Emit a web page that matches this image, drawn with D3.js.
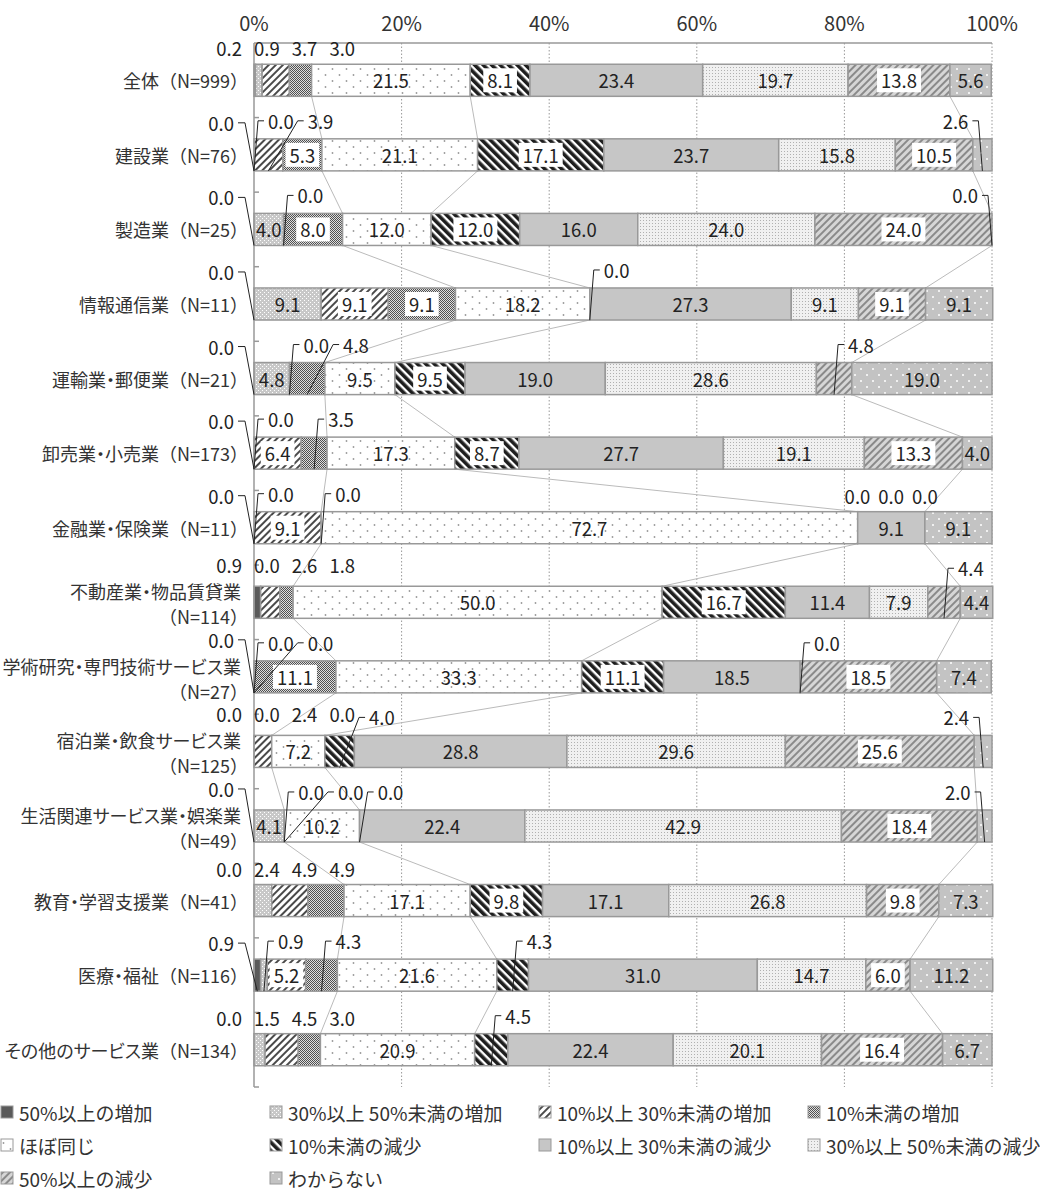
<!DOCTYPE html>
<html>
<head>
<meta charset="utf-8">
<script src="https://cdn.jsdelivr.net/npm/d3@7"></script>
<style>
  body { margin: 0; background: #fff; }
  text { font-family: "Noto Sans CJK JP", "Noto Sans", sans-serif; }
  .palt { font-feature-settings: "palt"; }
</style>
</head>
<body>
<div id="chart"></div>
<script>
// categories (rows), top to bottom
const categories = [
  "全体（N=999）", "建設業（N=76）", "製造業（N=25）", "情報通信業（N=11）",
  "運輸業・郵便業（N=21）", "卸売業・小売業（N=173）", "金融業・保険業（N=11）",
  "不動産業・物品賃貸業\n（N=114）", "学術研究・専門技術サービス業\n（N=27）",
  "宿泊業・飲食サービス業\n（N=125）", "生活関連サービス業・娯楽業\n（N=49）",
  "教育・学習支援業（N=41）", "医療・福祉（N=116）", "その他のサービス業（N=134）"
];

const seriesNames = [
  "50%以上の増加", "30%以上 50%未満の増加", "10%以上 30%未満の増加", "10%未満の増加",
  "ほぼ同じ", "10%未満の減少", "10%以上 30%未満の減少", "30%以上 50%未満の減少",
  "50%以上の減少", "わからない"
];

// one array per series, values in %, same order as categories
const inc50   = [0.2, 0.0, 0.0, 0.0, 0.0, 0.0, 0.0, 0.9, 0.0, 0.0, 0.0, 0.0, 0.9, 0.0];
const inc30   = [0.9, 0.0, 4.0, 9.1, 4.8, 0.0, 0.0, 0.0, 0.0, 0.0, 4.1, 2.4, 0.9, 1.5];
const inc10   = [3.7, 3.9, 0.0, 9.1, 0.0, 6.4, 9.1, 2.6, 0.0, 2.4, 0.0, 4.9, 5.2, 4.5];
const inc0    = [3.0, 5.3, 8.0, 9.1, 4.8, 3.5, 0.0, 1.8, 11.1, 0.0, 0.0, 4.9, 4.3, 3.0];
const same    = [21.5, 21.1, 12.0, 18.2, 9.5, 17.3, 72.7, 50.0, 33.3, 7.2, 10.2, 17.1, 21.6, 20.9];
const dec0    = [8.1, 17.1, 12.0, 0.0, 9.5, 8.7, 0.0, 16.7, 11.1, 4.0, 0.0, 9.8, 4.3, 4.5];
const dec10   = [23.4, 23.7, 16.0, 27.3, 19.0, 27.7, 9.1, 11.4, 18.5, 28.8, 22.4, 17.1, 31.0, 22.4];
const dec30   = [19.7, 15.8, 24.0, 9.1, 28.6, 19.1, 0.0, 7.9, 0.0, 29.6, 42.9, 26.8, 14.7, 20.1];
const dec50   = [13.8, 10.5, 24.0, 9.1, 4.8, 13.3, 0.0, 4.4, 18.5, 25.6, 18.4, 9.8, 6.0, 16.4];
const unknown = [5.6, 2.6, 0.0, 9.1, 19.0, 4.0, 9.1, 4.4, 7.4, 2.4, 2.0, 7.3, 11.2, 6.7];

const tickLabels = ["0%", "20%", "40%", "60%", "80%", "100%"];

const seriesValues = [inc50, inc30, inc10, inc0, same, dec0, dec10, dec30, dec50, unknown];
const keys = seriesNames;

const table = categories.map((c, i) => {
  const row = {};
  keys.forEach((k, j) => row[k] = seriesValues[j][i]);
  return row;
});
const stacked = d3.stack().keys(keys)(table);

const WIDTH = 1040, HEIGHT = 1194;
const svg = d3.select("#chart").append("svg")
  .attr("width", WIDTH)
  .attr("height", HEIGHT);

const x = d3.scaleLinear().domain([0, 100]).range([254, 992]);
const y = d3.scaleBand().domain(d3.range(categories.length))
  .range([43, 1087]).paddingInner(0.57).paddingOuter(0.285);
const bw = y.bandwidth();

// patterns
const defs = svg.append("defs");
function pattern(id, w, h, bg, rot) {
  const p = defs.append("pattern").attr("id", id)
    .attr("patternUnits", "userSpaceOnUse").attr("width", w).attr("height", h);
  if (rot) p.attr("patternTransform", `rotate(${rot})`);
  p.append("rect").attr("width", w).attr("height", h).attr("fill", bg);
  return p;
}
let p;
p = pattern("p1", 4, 4, "#c8c8c8");
p.append("rect").attr("x", 0).attr("y", 0).attr("width", 1).attr("height", 1).attr("fill", "#fff");
p.append("rect").attr("x", 2).attr("y", 2).attr("width", 1).attr("height", 1).attr("fill", "#fff");
p = pattern("p2", 5, 5, "#fff", 45);
p.append("rect").attr("width", 2).attr("height", 5).attr("fill", "#4a4a4a");
p = pattern("p3", 2, 2, "#dedede");
p.append("rect").attr("width", 1).attr("height", 1).attr("fill", "#505050");
p.append("rect").attr("x", 1).attr("y", 1).attr("width", 1).attr("height", 1).attr("fill", "#505050");
p = pattern("p4", 14, 12, "#fff");
p.append("circle").attr("cx", 3.5).attr("cy", 3).attr("r", 0.9).attr("fill", "#999");
p.append("circle").attr("cx", 10.5).attr("cy", 9).attr("r", 0.9).attr("fill", "#999");
p = pattern("p5", 6, 6, "#fff", -45);
p.append("rect").attr("width", 3.6).attr("height", 6).attr("fill", "#1e1e1e");
p = pattern("p7", 3, 3, "#f0f0f0");
p.append("rect").attr("x", 1).attr("y", 1).attr("width", 1).attr("height", 1).attr("fill", "#b0b0b0");
p = pattern("p8", 5, 5, "#d6d6d6", 45);
p.append("rect").attr("width", 2).attr("height", 5).attr("fill", "#8a8a8a");
p = pattern("p9", 12, 12, "#c3c3c3");
p.append("circle").attr("cx", 3).attr("cy", 3).attr("r", 1).attr("fill", "#fff");
p.append("circle").attr("cx", 9).attr("cy", 9).attr("r", 1).attr("fill", "#fff");

const fills = ["#5a5a5a", "url(#p1)", "url(#p2)", "url(#p3)", "url(#p4)",
               "url(#p5)", "#c6c6c6", "url(#p7)", "url(#p8)", "url(#p9)"];
const boxed = new Set([2, 3, 5, 8]);
const fmt = d3.format(".1f");
const VAL_SIZE = 18.5;

// grid lines
svg.append("g").selectAll("line")
  .data(d3.range(20, 101, 20))
  .join("line")
  .attr("x1", d => x(d)).attr("x2", d => x(d))
  .attr("y1", 43).attr("y2", 1087)
  .attr("stroke", "#999").attr("stroke-width", 1)
  .attr("stroke-dasharray", "1.5,2");

// top tick labels
svg.append("g").selectAll("text")
  .data(tickLabels)
  .join("text")
  .attr("x", (d, i) => x(i * 20))
  .attr("y", 22)
  .attr("text-anchor", "middle")
  .attr("dominant-baseline", "central")
  .attr("font-size", 20)
  .attr("fill", "#333")
  .text(d => d);

// connectors between rows (end of increases, end of ほぼ同じ, end of 50%以上の減少)
const joinKeys = [3, 4, 8];
const conn = svg.append("g");
joinKeys.forEach(k => {
  for (let i = 0; i < categories.length - 1; i++) {
    conn.append("line")
      .attr("x1", x(stacked[k][i][1])).attr("y1", y(i) + bw)
      .attr("x2", x(stacked[k][i + 1][1])).attr("y2", y(i + 1))
      .attr("stroke", "#bbb").attr("stroke-width", 1);
  }
});

// bars
svg.append("g").selectAll("g")
  .data(stacked)
  .join("g")
  .attr("fill", (d, k) => fills[k])
  .selectAll("rect")
  .data(d => d)
  .join("rect")
  .attr("x", d => x(d[0]))
  .attr("y", (d, i) => y(i))
  .attr("width", d => x(d[1]) - x(d[0]))
  .attr("height", bw)
  .attr("stroke", "#999")
  .attr("stroke-width", 1.5);

// axes lines
svg.append("line").attr("x1", x(0)).attr("x2", x(100)).attr("y1", 43).attr("y2", 43)
  .attr("stroke", "#999").attr("stroke-width", 1.5);
svg.append("line").attr("x1", x(0)).attr("x2", x(0)).attr("y1", 43).attr("y2", 1087)
  .attr("stroke", "#999").attr("stroke-width", 1.5);
svg.append("g").selectAll("line")
  .data(d3.range(1, categories.length + 1))
  .join("line")
  .attr("x1", x(0)).attr("x2", x(0) + 5)
  .attr("y1", i => y(0) - y.step() * y.paddingOuter() + i * y.step())
  .attr("y2", i => y(0) - y.step() * y.paddingOuter() + i * y.step())
  .attr("stroke", "#999").attr("stroke-width", 1.5);

// category labels: name with proportional kana, "（N=..）" part full width
const catG = svg.append("g");
categories.forEach((c, i) => {
  const mid = y(i) + bw / 2;
  const lines = c.split("\n");
  const label = (ln, ty, xEnd) => {
    const cut = ln.indexOf("（");
    const t = catG.append("text")
      .attr("x", xEnd).attr("y", ty)
      .attr("text-anchor", "end")
      .attr("dominant-baseline", "central")
      .attr("font-size", 18)
      .attr("fill", "#333");
    if (cut > 0) {
      t.append("tspan").attr("class", "palt").text(ln.slice(0, cut));
      t.append("tspan").text(ln.slice(cut));
    } else if (cut === 0) {
      t.text(ln);
    } else {
      t.append("tspan").attr("class", "palt").text(ln);
    }
  };
  if (lines.length === 1) {
    label(lines[0], mid, 248);
  } else {
    label(lines[0], mid - 11, 241);
    label(lines[1], mid + 14, 248);
  }
});

// value labels
const lab = svg.append("g");
const leaders = svg.append("g");
categories.forEach((c, i) => {
  const bt = y(i), bb = bt + bw, mid = bt + bw / 2;
  const twoLine = c.includes("\n");
  const leftY = bt - (twoLine ? 21 : 16);
  const segs = stacked.map((s, k) => {
    const v = seriesValues[k][i];
    const x0 = x(s[i][0]), x1 = x(s[i][1]);
    return {k, v, x0, x1, cx: (x0 + x1) / 2, out: v < (boxed.has(k) ? 5 : 4)};
  });

  // inside labels
  segs.filter(s => !s.out).forEach(s => {
    const g = lab.append("g");
    const t = g.append("text")
      .attr("x", s.cx).attr("y", mid)
      .attr("text-anchor", "middle")
      .attr("dominant-baseline", "central")
      .attr("font-size", VAL_SIZE)
      .attr("fill", "#222")
      .text(fmt(s.v));
    if (boxed.has(s.k)) {
      const w = t.node().getComputedTextLength();
      g.insert("rect", "text")
        .attr("x", s.cx - w / 2 - 4).attr("y", mid - 12)
        .attr("width", w + 8).attr("height", 24)
        .attr("fill", "#fff");
    }
  });

  const outs = segs.filter(s => s.out);
  const mkText = s => {
    const t = lab.append("text")
      .attr("dominant-baseline", "central")
      .attr("font-size", VAL_SIZE)
      .attr("fill", "#222")
      .text(fmt(s.v));
    return [t, t.node().getComputedTextLength()];
  };

  // several zeros on the decrease side: plain labels, pushed leftwards
  const rightZeros = outs.filter(s => s.k >= 5 && s.v === 0);
  const plainRight = rightZeros.length >= 2;
  if (plainRight) {
    let limit = x(100) + 6;
    rightZeros.slice().reverse().forEach(s => {
      const [t, w] = mkText(s);
      const sx = Math.min(s.cx - w / 2, limit - 8 - w);
      t.attr("x", sx).attr("y", bt - 16);
      limit = sx;
    });
  }

  const lineMode = [0, 1, 2, 3].every(k => segs[k].out);
  let lineEnd = -Infinity, prevEnd = -Infinity;
  outs.forEach(s => {
    if (plainRight && s.k >= 5 && s.v === 0) return;
    const [t, w] = mkText(s);
    if (lineMode && s.k <= 3) {
      const sx = s.k === 0 ? x(0) - 12 - w : Math.max(s.cx - w / 2, lineEnd + 12);
      t.attr("x", sx).attr("y", leftY);
      lineEnd = sx + w;
      prevEnd = Math.max(prevEnd, lineEnd);
      return;
    }
    if (s.k === 0) {
      const ex = x(0) - 20;
      t.attr("x", ex - w).attr("y", leftY);
      leaders.append("path")
        .attr("d", `M${ex + 4},${leftY}H${ex + 11}L${s.cx},${bb}`);
      return;
    }
    const ty = bt - 18;
    const sx = Math.max(s.cx + 14, prevEnd + 14);
    if (sx + w > x(100) - 2) {
      const ex = s.cx - 14;
      t.attr("x", ex - w).attr("y", ty);
      leaders.append("path")
        .attr("d", `M${ex + 4},${ty}H${ex + 10}L${s.cx},${bb}`);
    } else {
      t.attr("x", sx).attr("y", ty);
      leaders.append("path")
        .attr("d", `M${sx - 4},${ty}H${sx - 10}L${s.cx},${bb}`);
      prevEnd = sx + w;
    }
  });
});
leaders.selectAll("path").attr("fill", "none").attr("stroke", "#222").attr("stroke-width", 1);

// legend
const legend = svg.append("g");
seriesNames.forEach((n, k) => {
  const col = k % 4;
  const row = Math.floor(k / 4);
  const lx = col * 269, ly = 1112 + row * 33;
  legend.append("rect")
    .attr("x", lx + 1).attr("y", ly - 6)
    .attr("width", 12).attr("height", 12)
    .attr("fill", fills[k]).attr("stroke", "#999");
  legend.append("text")
    .attr("x", lx + 19).attr("y", ly)
    .attr("dominant-baseline", "central")
    .attr("font-size", 19)
    .attr("fill", "#333")
    .text(n);
});
</script>
</body>
</html>
